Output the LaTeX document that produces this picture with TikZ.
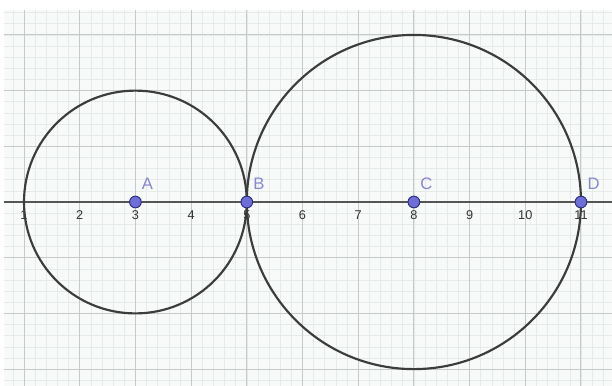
\documentclass[tikz,border=0pt]{standalone}
\usepackage{fontspec}
\setmainfont{Liberation Sans}
\usetikzlibrary{positioning}
\definecolor{PaperBg}{HTML}{F7FAF9}
\definecolor{GridMinor}{HTML}{E4EBE9}
\definecolor{GridMajor}{HTML}{C6CACA}
\definecolor{AxisGray}{HTML}{555555}
\definecolor{CurveGray}{HTML}{3C3C3C}
\definecolor{PointFill}{HTML}{6E6ED8}
\definecolor{PointDraw}{HTML}{2E2E80}
\definecolor{LabelBlue}{HTML}{8787CF}
\tikzset{
  circ/.style={draw=CurveGray,line width=1.1pt},
  pt/.style={circle,fill=PointFill,draw=PointDraw,line width=0.5pt,
             minimum size=0.21cm,inner sep=0pt},
  lab/.style={font=\fontsize{8.5}{10}\selectfont,text=LabelBlue,inner sep=0pt},
  tick/.style={font=\fontsize{6.5}{8}\selectfont,text=black!80,inner sep=0pt}
}
\begin{document}
\begin{tikzpicture}
  \useasboundingbox (0.569,-3.303) rectangle (11.557,3.627);

  % Grid
  \begin{scope}
    \clip (0.64,-3.303) rectangle (11.557,3.447);
    \fill[PaperBg] (0.64,-3.303) rectangle (11.557,3.447);
    \draw[GridMinor,line width=0.3pt,step=0.2] (0,-4) grid (12,4);
    \draw[GridMajor,line width=0.5pt,step=1] (0,-4) grid (12,4);
  \end{scope}

  % Axis
  \draw[AxisGray,line width=1pt] (0.64,0) -- (11.557,0);
  \foreach \x in {1,...,11}
    \node[tick] (tick\x) at (\x,-0.24) {\x};

  % Circles
  \draw[circ] (3,0) circle (2);
  \draw[circ] (8,0) circle (3);

  % Points
  \foreach \n/\x in {A/3,B/5,C/8,D/11} {
    \node[pt] (pt\n) at (\x,0) {};
    \node[lab,above right=0.13cm and 0.03cm of pt\n] (lab\n) {\n};
  }
\end{tikzpicture}
\end{document}
